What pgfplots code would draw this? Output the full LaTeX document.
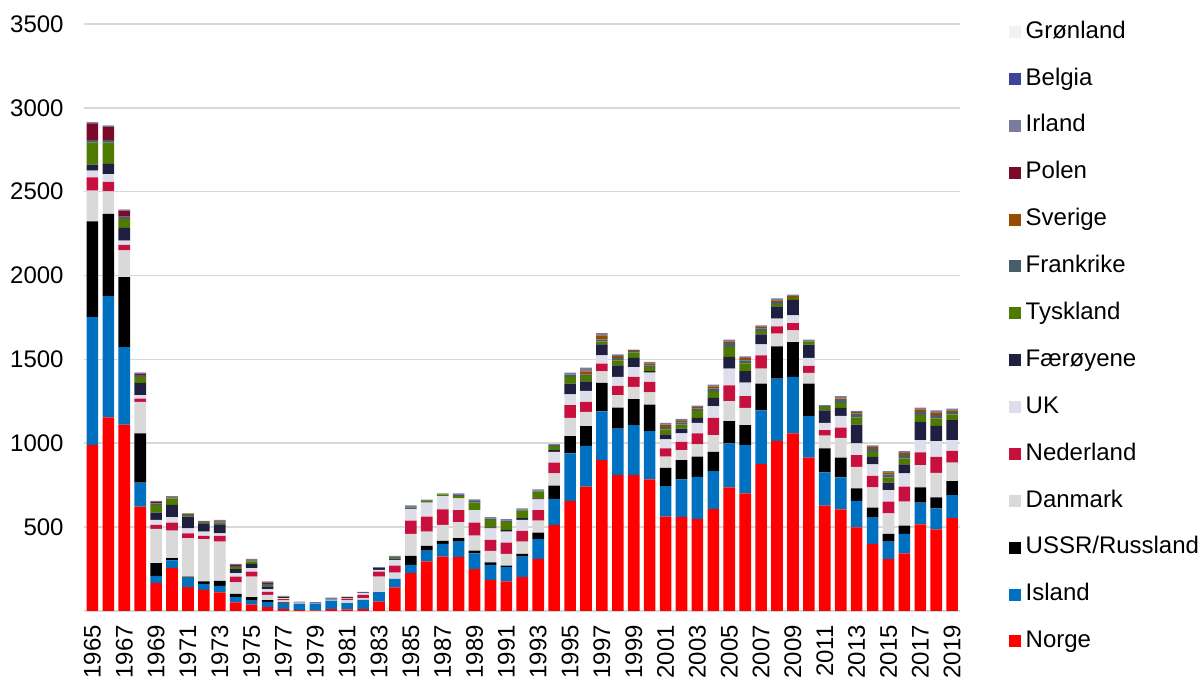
\documentclass[border=0pt]{standalone}
\usepackage{pgfplots}
\usepackage{pgfplotstable}
\pgfplotsset{compat=1.18}
\usepackage{fontspec}
\setmainfont{Liberation Sans}
\definecolor{cNorge}{HTML}{FF0000}
\definecolor{cIsland}{HTML}{0070C0}
\definecolor{cUSSR}{HTML}{000000}
\definecolor{cDanmark}{HTML}{D9D9D9}
\definecolor{cNL}{HTML}{C8103E}
\definecolor{cUK}{HTML}{DEDEEA}
\definecolor{cFaer}{HTML}{1F1F3F}
\definecolor{cTysk}{HTML}{4F7A00}
\definecolor{cFrank}{HTML}{495D6C}
\definecolor{cSver}{HTML}{964B00}
\definecolor{cPolen}{HTML}{7B0A2A}
\definecolor{cIrland}{HTML}{7B7B9E}
\definecolor{cBelgia}{HTML}{3F4596}
\definecolor{cGron}{HTML}{F2F2F2}
\definecolor{gridc}{HTML}{D9D9D9}

\pgfplotstableread{
yr N I U D NL UK F T Fr Sv P Ir B G
1965 990 762 571 183 79 40 36 132 14 0 100 5 2 0
1966 1153 724 490 135 57 46 60 128 14 0 80 5 2 0
1967 1111 462 417 159 33 26 76 53 14 0 36 4 2 0
1968 621 143 294 188 20 20 73 36 10 0 10 4 2 0
1969 165 43 76 204 24 30 43 46 10 0 8 6 0 0
1970 254 46 14 164 48 32 73 40 6 0 4 3 0 0
1971 141 57 6 229 29 30 69 10 6 0 2 2 0 0
1972 125 36 14 252 19 26 50 6 4 0 2 2 0 0
1973 109 40 30 234 33 16 54 10 6 0 5 5 0 0
1974 50 31 20 68 35 20 24 12 6 0 8 6 0 0
1975 36 25 20 123 30 20 26 14 6 0 5 5 0 0
1976 21 32 10 32 18 16 16 8 8 0 5 10 0 0
1977 10 32 8 12 8 6 6 2 2 0 0 3 0 0
1978 5 38 0 3 0 2 2 0 0 0 0 4 0 0
1979 3 39 0 0 0 2 3 0 0 0 0 5 0 0
1980 10 51 0 3 0 3 6 0 0 0 0 5 0 0
1981 8 38 0 18 8 5 5 0 0 0 0 3 0 0
1982 10 55 0 10 20 10 5 0 0 0 0 3 0 0
1983 55 56 0 93 30 10 10 0 0 0 0 6 0 0
1984 139 51 0 38 42 34 7 9 0 0 0 7 0 0
1985 224 50 53 131 79 70 4 4 4 0 0 10 0 0
1986 294 65 28 85 89 84 0 10 0 0 0 8 0 0
1987 323 76 18 95 93 79 0 10 0 0 0 6 0 0
1988 320 93 20 95 73 70 0 13 6 0 0 10 0 0
1989 248 95 16 89 78 75 0 44 10 0 0 10 0 0
1990 185 89 14 69 66 69 6 44 8 0 0 8 0 0
1991 175 85 10 69 68 65 10 46 10 0 0 8 0 0
1992 200 123 16 74 63 66 10 45 7 0 0 7 0 0
1993 310 117 39 71 64 64 5 40 7 0 0 7 0 0
1994 512 155 79 74 63 65 10 24 6 0 0 6 0 0
1995 655 284 103 109 75 64 65 40 14 0 0 12 0 0
1996 740 244 117 85 60 65 58 30 10 19 0 22 0 0
1997 899 291 169 69 46 50 65 18 12 24 0 13 0 0
1998 809 278 125 74 55 54 69 30 14 12 0 10 0 0
1999 809 298 155 73 60 59 54 32 8 6 0 4 0 0
2000 784 287 159 72 63 56 8 25 10 12 0 8 0 0
2001 561 183 109 66 49 54 30 30 15 14 0 10 0 0
2002 558 226 115 59 50 50 29 24 12 10 0 12 0 0
2003 546 253 120 73 66 63 30 41 14 10 0 8 0 0
2004 607 226 115 100 103 69 50 35 20 14 0 10 0 0
2005 736 262 133 119 95 99 70 59 24 10 0 10 0 0
2006 700 288 119 103 70 81 69 44 20 14 0 10 0 0
2007 875 321 159 89 80 65 60 19 15 9 0 10 0 0
2008 1014 371 192 76 43 46 73 16 10 10 0 12 0 0
2009 1058 337 208 69 44 46 93 12 0 10 0 8 0 0
2010 913 248 194 64 41 48 79 20 0 0 0 10 0 0
2011 627 199 142 76 33 44 75 20 4 0 0 6 0 0
2012 605 191 117 119 61 70 47 30 16 10 0 14 0 0
2013 498 157 75 129 69 70 113 42 23 10 0 6 0 0
2014 399 156 60 121 69 68 45 30 16 14 0 8 0 0
2015 308 104 46 123 70 69 44 32 18 12 0 7 0 0
2016 343 115 50 143 89 80 53 36 19 14 0 10 0 0
2017 516 129 91 133 76 73 109 40 19 16 0 10 0 0
2018 486 125 66 146 95 94 91 44 20 16 0 13 0 0
2019 552 138 84 109 71 64 119 34 15 10 0 10 0 0
}\data

\begin{document}
\begin{tikzpicture}
\begin{axis}[
  scale only axis,
  width=438pt, height=293.5pt,
  ybar stacked,
  bar width=0.73,
  xmin=1964.5, xmax=2019.5,
  ymin=0, ymax=3500,
  xtick={1965,1967,...,2019},
  ytick={500,1000,...,3500},
  extra y ticks={0},
  extra y tick labels={},
  extra y tick style={grid=major},
  ymajorgrids,
  grid style={draw=gridc, line width=0.75pt},
  axis line style={draw=none},
  major tick length=0pt,
  tick style={draw=none},
  /pgf/number format/assume math mode=true,
  /pgf/number format/1000 sep={},
  tick label style={font=\fontsize{12}{14}\selectfont},
  xticklabel style={rotate=90, anchor=east, inner sep=0pt},
  xticklabel shift=7pt,
  yticklabel style={inner sep=0pt},
  yticklabel shift=10.25pt,
  reverse legend,
  legend cell align=left,
  legend image code/.code={\fill[#1] (0pt,-3pt) rectangle (6pt,3pt);},
  legend style={
    at={(1.055,0.467)}, anchor=west,
    draw=none, fill=none, inner sep=0pt,
    font=\fontsize{12}{14}\selectfont,
    row sep=12.25pt,
    nodes={inner sep=0pt, text height=8.7pt, text depth=2.5pt},
    /tikz/every odd column/.append style={column sep=2.5pt},
  },
]
\addplot[fill=cNorge, draw=none] table[x=yr,y=N] {\data};
\addplot[fill=cIsland, draw=none] table[x=yr,y=I] {\data};
\addplot[fill=cUSSR, draw=none] table[x=yr,y=U] {\data};
\addplot[fill=cDanmark, draw=none] table[x=yr,y=D] {\data};
\addplot[fill=cNL, draw=none] table[x=yr,y=NL] {\data};
\addplot[fill=cUK, draw=none] table[x=yr,y=UK] {\data};
\addplot[fill=cFaer, draw=none] table[x=yr,y=F] {\data};
\addplot[fill=cTysk, draw=none] table[x=yr,y=T] {\data};
\addplot[fill=cFrank, draw=none] table[x=yr,y=Fr] {\data};
\addplot[fill=cSver, draw=none] table[x=yr,y=Sv] {\data};
\addplot[fill=cPolen, draw=none] table[x=yr,y=P] {\data};
\addplot[fill=cIrland, draw=none] table[x=yr,y=Ir] {\data};
\addplot[fill=cBelgia, draw=none] table[x=yr,y=B] {\data};
\addplot[fill=cGron, draw=none] table[x=yr,y=G] {\data};
\legend{Norge,Island,USSR/Russland,Danmark,Nederland,UK,Færøyene,Tyskland,Frankrike,Sverige,Polen,Irland,Belgia,Grønland}
\end{axis}
\path ([xshift=-42.25pt,yshift=-34.5pt]current axis.south west) rectangle ([xshift=119.25pt,yshift=12pt]current axis.north east);
\end{tikzpicture}
\end{document}
